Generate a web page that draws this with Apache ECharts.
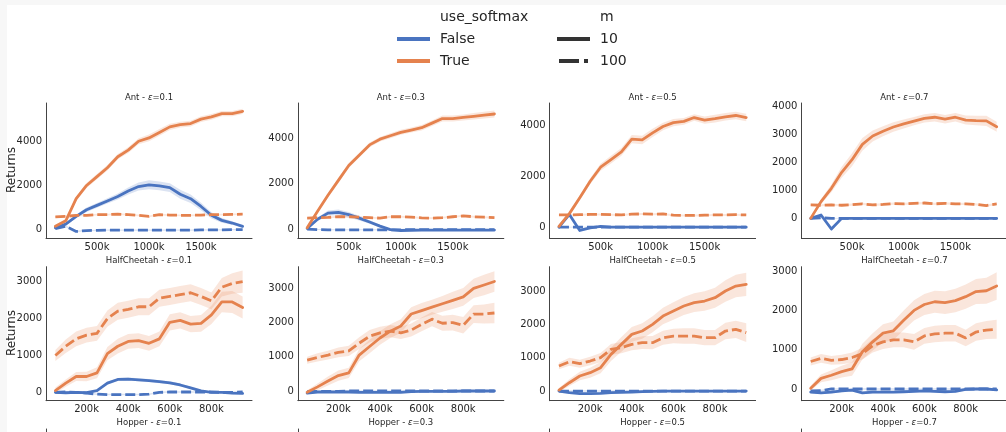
<!DOCTYPE html>
<html><head><meta charset="utf-8">
<script src="https://cdn.jsdelivr.net/npm/echarts@6/dist/echarts.min.js"></script>
<style>
html,body{margin:0;padding:0;background:#f7f7f7;width:1006px;height:432px;overflow:hidden}
#bg{position:absolute;left:7px;top:5px;width:999px;height:427px;background:#fff}
#c{position:absolute;left:0;top:0;width:1006px;height:432px}
</style>
</head><body><div id="bg"></div><div id="c"></div><script>
// ---------- data ----------
const envNames = ['Ant', 'HalfCheetah', 'Hopper'];
const epsilons = ['0.1', '0.3', '0.5', '0.7'];
const antSteps = [100,200,300,400,500,600,700,800,900,1000,1100,1200,1300,1400,1500,1600,1700,1800,1900];
const hcSteps = [50,100,150,200,250,300,350,400,450,500,550,600,650,700,750,800,850,900,950];
const antXTicks = [500, 1000, 1500];
const hcXTicks = [200, 400, 600, 800];
const antYTicks2k = [0, 2000, 4000];
const antYTicks1k = [0, 1000, 2000, 3000, 4000];
const hcYTicks = [0, 1000, 2000, 3000];

// Ant eps=0.1
const ant01_F10 = [80,250,600,900,1100,1300,1500,1750,1950,2030,1980,1900,1600,1400,1050,650,420,300,150];
const ant01_F10ci = [40,60,80,100,110,120,140,160,180,200,200,200,200,190,170,140,110,80,60];
const ant01_F100 = [50,150,-80,-40,-30,-20,-20,-20,-20,-20,-20,-20,-20,-20,-10,-10,-10,0,0];
const ant01_F100ci = [30,40,40,30,30,30,30,30,30,30,30,30,30,30,30,30,30,30,30];
const ant01_T10 = [150,400,1400,2000,2400,2800,3300,3600,4000,4150,4400,4650,4750,4800,5000,5100,5250,5250,5350];
const ant01_T10ci = [60,80,100,110,120,120,120,130,140,150,150,140,130,130,130,130,120,120,120];
const ant01_T100 = [580,600,650,650,680,680,700,680,650,600,680,660,650,650,660,680,680,690,700];
const ant01_T100ci = [40,40,40,40,40,40,40,40,40,40,40,40,40,40,40,40,40,40,40];
// Ant eps=0.3
const ant03_F10 = [50,450,720,750,650,500,330,150,0,-40,-30,-20,-20,-20,-20,-20,-20,-20,-20];
const ant03_F10ci = [30,70,110,130,120,100,80,60,30,20,20,20,20,20,20,20,20,20,20];
const ant03_F100 = [20,0,-10,-10,-10,-10,-10,-10,-10,-10,0,0,0,0,0,0,0,0,0];
const ant03_F100ci = [20,20,20,20,20,20,20,20,20,20,20,20,20,20,20,20,20,20,20];
const ant03_T10 = [75,800,1500,2150,2800,3250,3700,3950,4100,4250,4350,4450,4650,4850,4850,4900,4950,5000,5050];
const ant03_T10ci = [50,80,100,110,110,100,100,100,110,110,110,120,120,130,130,130,140,150,150];
const ant03_T100 = [500,520,530,560,560,540,520,500,560,560,540,510,500,520,560,600,560,540,520];
const ant03_T100ci = [40,40,40,40,40,40,40,40,40,40,40,40,40,40,40,40,40,40,40];
// Ant eps=0.5
const ant05_F10 = [0,500,-130,-30,30,0,0,0,0,0,0,0,0,0,0,0,0,0,0];
const ant05_F10ci = [20,40,40,30,20,20,20,20,20,20,20,20,20,20,20,20,20,20,20];
const ant05_F100 = [0,0,0,0,0,0,0,0,0,0,0,0,0,0,0,0,0,0,0];
const ant05_F100ci = [15,15,15,15,15,15,15,15,15,15,15,15,15,15,15,15,15,15,15];
const ant05_T10 = [30,530,1150,1800,2350,2650,2950,3450,3420,3700,3950,4100,4150,4300,4200,4260,4330,4380,4300];
const ant05_T10ci = [40,60,90,120,140,150,150,160,170,160,150,140,130,130,140,150,150,150,150];
const ant05_T100 = [480,480,490,500,500,490,480,510,520,510,520,470,460,460,470,480,480,490,480];
const ant05_T100ci = [40,40,40,40,40,40,40,40,40,40,40,40,40,40,40,40,40,40,40];
// Ant eps=0.7
const ant07_F10 = [0,120,-380,0,0,0,0,0,0,0,0,0,0,0,0,0,0,0,0];
const ant07_F10ci = [20,40,70,30,20,20,20,20,20,20,20,20,20,20,20,20,20,20,20];
const ant07_F100 = [0,20,0,0,0,0,0,0,0,0,0,0,0,0,0,0,0,0,0];
const ant07_F100ci = [15,15,15,15,15,15,15,15,15,15,15,15,15,15,15,15,15,15,15];
const ant07_T10 = [0,600,1075,1650,2100,2650,2950,3120,3270,3380,3480,3580,3620,3550,3620,3520,3500,3490,3280];
const ant07_T10ci = [40,90,140,200,230,230,200,180,170,160,150,150,150,150,150,160,170,180,180];
const ant07_T100 = [480,470,480,470,490,520,480,500,530,520,540,550,520,540,520,520,500,460,520];
const ant07_T100ci = [40,40,40,40,40,40,40,40,40,40,40,40,40,40,40,40,40,40,40];
// HalfCheetah eps=0.1
const hc01_F10 = [0,-10,0,-10,50,250,350,360,340,320,290,260,200,120,40,0,0,-20,-30];
const hc01_F10ci = [20,20,20,20,30,40,40,40,40,40,40,40,40,30,30,20,20,30,30];
const hc01_F100 = [0,10,0,-20,-50,-60,-60,-60,-60,-50,0,10,10,10,10,10,0,0,10];
const hc01_F100ci = [20,20,20,20,20,20,20,20,20,20,20,20,20,20,20,20,20,30,30];
const hc01_T10 = [50,250,430,430,530,1050,1250,1380,1400,1330,1450,1900,1950,1850,1870,2100,2450,2450,2300];
const hc01_T10ci = [80,100,120,130,150,180,200,200,200,200,200,220,220,220,230,250,280,300,300];
const hc01_T100 = [1000,1250,1450,1550,1600,2000,2200,2250,2320,2320,2550,2600,2650,2700,2600,2480,2850,2950,3000];
const hc01_T100ci = [150,180,200,200,200,220,230,230,230,230,230,230,230,230,230,230,250,280,300];
// HalfCheetah eps=0.3
const hc03_F10 = [-60,-30,-30,-30,-30,-40,-40,-40,-40,-40,-20,-10,-10,-10,-10,0,0,0,0];
const hc03_F10ci = [30,20,20,20,20,20,20,20,20,20,20,20,20,20,20,20,20,20,20];
const hc03_F100 = [-20,-10,-10,-10,0,0,0,0,0,0,0,0,0,0,0,0,0,0,0];
const hc03_F100ci = [20,20,20,20,20,20,20,20,20,20,20,20,20,20,20,20,20,20,20];
const hc03_T10 = [-40,120,290,450,530,1050,1300,1550,1750,1900,2250,2350,2450,2550,2650,2750,3000,3100,3200];
const hc03_T10ci = [60,100,130,150,150,180,200,200,200,200,200,220,220,230,250,260,280,300,300];
const hc03_T100 = [900,980,1050,1130,1170,1400,1600,1700,1750,1700,1780,1950,2100,1980,2000,1920,2250,2250,2280];
const hc03_T100ci = [100,120,130,140,150,170,180,180,180,180,190,200,210,220,230,240,260,280,300];
// HalfCheetah eps=0.5
const hc05_F10 = [0,-50,-80,-80,-70,-50,-40,-30,-20,-10,0,0,0,0,0,0,0,0,0];
const hc05_F10ci = [20,20,20,20,20,20,20,20,20,20,20,20,20,20,20,20,20,20,20];
const hc05_F100 = [0,0,0,0,0,0,0,0,0,0,0,0,0,0,0,0,0,0,0];
const hc05_F100ci = [20,20,20,20,20,20,20,20,20,20,20,20,20,20,20,20,20,20,20];
const hc05_T10 = [30,250,450,550,700,1100,1400,1700,1800,2000,2250,2400,2550,2650,2700,2800,3000,3150,3200];
const hc05_T10ci = [60,100,130,150,170,200,220,220,230,240,250,260,270,280,290,300,320,340,350];
const hc05_T100 = [750,880,820,900,1000,1250,1300,1400,1450,1450,1600,1650,1650,1650,1600,1600,1800,1850,1750];
const hc05_T100ci = [100,120,120,130,140,160,170,180,190,200,210,220,230,230,230,230,250,260,280];
// HalfCheetah eps=0.7
const hc07_F10 = [-80,-100,-80,-50,-30,-100,-80,-80,-80,-70,-60,-50,-60,-70,-60,-10,0,0,-20];
const hc07_F10ci = [30,30,30,30,30,30,30,30,30,30,30,30,30,30,30,30,30,30,30];
const hc07_F100 = [-50,-40,0,0,0,0,0,0,0,0,0,0,0,0,0,0,0,0,0];
const hc07_F100ci = [20,20,20,20,20,20,20,20,20,20,20,20,20,20,20,20,20,20,20];
const hc07_T10 = [20,270,350,440,510,950,1200,1420,1480,1750,2000,2150,2220,2200,2250,2350,2480,2500,2620];
const hc07_T10ci = [60,100,130,150,170,200,220,230,240,250,260,270,280,290,300,310,320,330,350];
const hc07_T100 = [700,780,730,750,800,900,1100,1200,1250,1250,1200,1350,1400,1420,1420,1300,1450,1500,1520];
const hc07_T100ci = [100,110,110,120,130,150,170,180,190,190,200,200,210,210,210,210,220,230,240];

// ---------- layout / style ----------
const FONT = 'DejaVu Sans';
const BLUE = '#4a74c0', ORANGE = '#e5824e';
const BLUE_BAND = 'rgba(74,116,192,0.2)', ORANGE_BAND = 'rgba(229,130,78,0.2)';
const AX = '#444', TXT = '#262626';
const colLeft = [46, 297.8, 549.6, 801.4];
const W = 206;
const rowsLay = [{top: 103, h: 135.5, title: 98}, {top: 266.7, h: 134, title: 261}, {top: 429, h: 135, title: 423}];

const panels = [
  {env:0, e:0, x:antSteps, xr:[10,1990], xt:antXTicks, yr:[-400,5730], yt:antYTicks2k, d:[ant01_F10,ant01_F10ci,ant01_F100,ant01_F100ci,ant01_T10,ant01_T10ci,ant01_T100,ant01_T100ci]},
  {env:0, e:1, x:antSteps, xr:[10,1990], xt:antXTicks, yr:[-390,5530], yt:antYTicks2k, d:[ant03_F10,ant03_F10ci,ant03_F100,ant03_F100ci,ant03_T10,ant03_T10ci,ant03_T100,ant03_T100ci]},
  {env:0, e:2, x:antSteps, xr:[10,1990], xt:antXTicks, yr:[-445,4870], yt:antYTicks2k, d:[ant05_F10,ant05_F10ci,ant05_F100,ant05_F100ci,ant05_T10,ant05_T10ci,ant05_T100,ant05_T100ci]},
  {env:0, e:3, x:antSteps, xr:[10,1990], xt:antXTicks, yr:[-720,4130], yt:antYTicks1k, d:[ant07_F10,ant07_F10ci,ant07_F100,ant07_F100ci,ant07_T10,ant07_T10ci,ant07_T100,ant07_T100ci]},
  {env:1, e:0, x:hcSteps, xr:[5,995], xt:hcXTicks, yr:[-226,3406], yt:hcYTicks, d:[hc01_F10,hc01_F10ci,hc01_F100,hc01_F100ci,hc01_T10,hc01_T10ci,hc01_T100,hc01_T100ci]},
  {env:1, e:1, x:hcSteps, xr:[5,995], xt:hcXTicks, yr:[-284,3634], yt:hcYTicks, d:[hc03_F10,hc03_F10ci,hc03_F100,hc03_F100ci,hc03_T10,hc03_T10ci,hc03_T100,hc03_T100ci]},
  {env:1, e:2, x:hcSteps, xr:[5,995], xt:hcXTicks, yr:[-290,3730], yt:hcYTicks, d:[hc05_F10,hc05_F10ci,hc05_F100,hc05_F100ci,hc05_T10,hc05_T10ci,hc05_T100,hc05_T100ci]},
  {env:1, e:3, x:hcSteps, xr:[5,995], xt:hcXTicks, yr:[-298,3112], yt:hcYTicks, d:[hc07_F10,hc07_F10ci,hc07_F100,hc07_F100ci,hc07_T10,hc07_T10ci,hc07_T100,hc07_T100ci]}
];

const grid = [], xAxis = [], yAxis = [], series = [], graphic = [];

function band(i, xs, ys, ci, fill) {
  const lo = ys.map((v, k) => v - ci[k]);
  const hi = ys.map((v, k) => v + ci[k]);
  return {
    type: 'custom', xAxisIndex: i, yAxisIndex: i, silent: true, animation: false, z: 1,
    data: xs.map((x, k) => [x, lo[k], hi[k]]),
    encode: {x: 0, y: [1, 2]},
    renderItem: (params, api) => {
      if (params.dataIndex !== 0) return null;
      const pts = [];
      for (let k = 0; k < xs.length; k++) pts.push(api.coord([xs[k], hi[k]]));
      for (let k = xs.length - 1; k >= 0; k--) pts.push(api.coord([xs[k], lo[k]]));
      return {type: 'polygon', shape: {points: pts}, style: {fill: fill}};
    }
  };
}
function line(i, xs, ys, color, dashed) {
  return {
    type: 'line', xAxisIndex: i, yAxisIndex: i, silent: true, animation: false, z: 3,
    symbol: 'none', showSymbol: false,
    data: xs.map((x, k) => [x, ys[k]]),
    itemStyle: {color: color},
    lineStyle: {color: color, width: 2.8, type: dashed ? [10, 4] : 'solid', cap: dashed ? 'butt' : 'round', join: 'round'}
  };
}
function titleText(env, e, cx, cy) {
  return {
    type: 'text', x: cx, y: cy, silent: true,
    style: {
      text: '{n|' + envNames[env] + ' - }{e|ε}{n|=' + epsilons[e] + '}',
      align: 'center', verticalAlign: 'middle',
      rich: {
        n: {fontFamily: FONT, fontSize: 8.5, fill: TXT},
        e: {fontFamily: FONT, fontSize: 8.5, fill: TXT, fontStyle: 'italic'}
      }
    }
  };
}

panels.forEach((p, i) => {
  const r = rowsLay[p.env];
  const left = colLeft[p.e];
  grid.push({left: left, top: r.top, width: W, height: r.h});
  xAxis.push({
    type: 'value', gridIndex: i, min: p.xr[0], max: p.xr[1],
    axisLine: {show: true, onZero: false, lineStyle: {color: AX, width: 1}},
    axisTick: {show: false}, splitLine: {show: false},
    axisLabel: {customValues: p.xt, formatter: v => String(v) + 'k', color: TXT, fontSize: 10, fontFamily: FONT, margin: 4}
  });
  yAxis.push({
    type: 'value', gridIndex: i, min: p.yr[0], max: p.yr[1],
    axisLine: {show: true, onZero: false, lineStyle: {color: AX, width: 1}},
    axisTick: {show: false}, splitLine: {show: false},
    axisLabel: {customValues: p.yt, formatter: v => String(v), color: TXT, fontSize: 10, fontFamily: FONT, margin: 4}
  });
  const d = p.d;
  series.push(band(i, p.x, d[0], d[1], BLUE_BAND));
  series.push(line(i, p.x, d[0], BLUE, false));
  series.push(band(i, p.x, d[2], d[3], BLUE_BAND));
  series.push(line(i, p.x, d[2], BLUE, true));
  series.push(band(i, p.x, d[4], d[5], ORANGE_BAND));
  series.push(line(i, p.x, d[4], ORANGE, false));
  series.push(band(i, p.x, d[6], d[7], ORANGE_BAND));
  series.push(line(i, p.x, d[6], ORANGE, true));
  graphic.push(titleText(p.env, p.e, left + W / 2, r.title));
});

// third (Hopper) row, cut off by the picture edge
for (let e = 0; e < 4; e++) {
  const i = grid.length;
  const r = rowsLay[2];
  grid.push({left: colLeft[e], top: r.top, width: W, height: r.h});
  xAxis.push({type: 'value', gridIndex: i, min: 0, max: 1, show: false});
  yAxis.push({type: 'value', gridIndex: i, min: 0, max: 1,
    axisLine: {show: true, onZero: false, lineStyle: {color: AX, width: 1}},
    axisTick: {show: false}, splitLine: {show: false}, axisLabel: {show: false}});
  graphic.push(titleText(2, e, colLeft[e] + W / 2, r.title));
}

// y-axis names
[170, 333].forEach(cy => graphic.push({
  type: 'text', x: 11.5, y: cy, rotation: Math.PI / 2, silent: true,
  style: {text: 'Returns', align: 'center', verticalAlign: 'middle', fontFamily: FONT, fontSize: 12, fill: TXT}
}));

// legend (hue + style)
const legendTexts = [
  ['use_softmax', 440, 17], ['False', 440, 39], ['True', 440, 61],
  ['m', 600, 17], ['10', 600, 39], ['100', 600, 61]
];
legendTexts.forEach(t => graphic.push({
  type: 'text', x: t[1], y: t[2], silent: true,
  style: {text: t[0], align: 'left', verticalAlign: 'middle', fontFamily: FONT, fontSize: 14, fill: TXT}
}));
const LG = '#333';
[[397, 430, 39, BLUE], [397, 430, 61, ORANGE], [557, 590, 39, LG], [559, 579, 61, LG], [584, 588, 61, LG]].forEach(l => graphic.push({
  type: 'line', silent: true, shape: {x1: l[0], y1: l[2], x2: l[1], y2: l[2]},
  style: {stroke: l[3], lineWidth: 4, lineCap: 'butt'}
}));

const chart = echarts.init(document.getElementById('c'), null, {renderer: 'canvas'});
chart.setOption({
  animation: false,
  backgroundColor: 'transparent',
  grid, xAxis, yAxis, series, graphic
});
</script></body></html>
